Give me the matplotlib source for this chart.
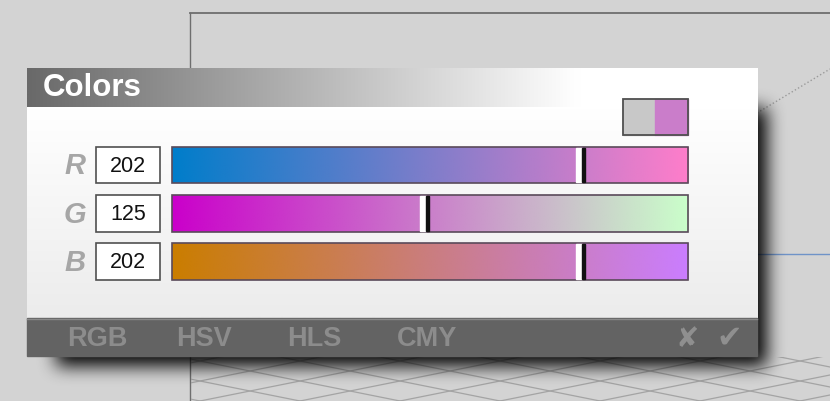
import numpy as np
import matplotlib
matplotlib.use("Agg")
import matplotlib.pyplot as plt
from matplotlib.patches import Rectangle

# current colour of the picker and the one it replaces
channels = ["R", "G", "B"]
values = [202, 125, 202]
previous = [200, 200, 200]
modes = ["RGB", "HSV", "HLS", "CMY"]
title = "Colors"

W, H = 830, 402
FONT = "Liberation Sans"


def blur(a, r, passes=3):
    k = np.ones(2 * r + 1) / (2 * r + 1)
    for _ in range(passes):
        a = np.apply_along_axis(lambda m: np.convolve(m, k, mode="same"), 0, a)
        a = np.apply_along_axis(lambda m: np.convolve(m, k, mode="same"), 1, a)
    return a


def shadow(ax, rects, dx, dy, r, alpha):
    mask = np.zeros((H, W))
    for x0, y0, x1, y1 in rects:
        mask[int(y0 + dy):int(y1 + dy), int(x0 + dx):int(x1 + dx)] = 1.0
    mask = blur(mask, r)
    img = np.zeros((H, W, 4))
    img[..., 3] = np.clip(mask * alpha, 0, 1)
    ax.imshow(img, extent=[0, W, H, 0], interpolation="bilinear", zorder=2)


def hgrad(ax, x0, y0, x1, y1, cols, z=3):
    arr = np.array(cols, dtype=float)[None, :, :] / 255
    ax.imshow(arr, extent=[x0, x1, y1, y0], aspect="auto",
              interpolation="bilinear", zorder=z)


fig = plt.figure(figsize=(W / 100, H / 100), dpi=100)
ax = fig.add_axes([0, 0, 1, 1])
ax.set_xlim(0, W)
ax.set_ylim(H, 0)
ax.axis("off")

# background scene
ax.add_patch(Rectangle((0, 0), W, H, color="#d3d3d3", zorder=0))
ax.plot([190, W], [14, 14], color="#6e6e6e", lw=1.3, zorder=1)
ax.plot([190, 190], [14, H], color="#6e6e6e", lw=1.0, zorder=1)
ax.plot([757, W], [114, 70], color="#9a9a9a", lw=1.0, ls=":", zorder=1)
ax.plot([757, W], [255, 255], color="#6f93c8", lw=1.0, zorder=1)
for x in np.arange(100, 1100, 100):
    for s in (1, -1):
        xs = np.array([x - 400, x + 400])
        ys = 382 + s * 0.2 * (xs - x)
        ln, = ax.plot(xs, ys, color="#a4a4a4", lw=0.9, zorder=1)
        ln.set_clip_path(Rectangle((191, 358), W, 60, transform=ax.transData))

# panel geometry
px0, px1 = 27, 757
ty0, ty1 = 69, 108
fy0, fy1 = 319, 357

shadow(ax, [(px0 + 20, ty0 + 30, px1, fy1)], 9, 10, 8, 1.0)

# body and title bar
body = np.linspace(255, 236, 50)
ax.imshow(np.repeat(body[:, None], 3, axis=1)[:, None, :] / 255,
          extent=[px0, px1, fy0, ty1], aspect="auto", interpolation="bilinear", zorder=3)
tx = np.linspace(px0, px1, 200)
tv = np.clip(105 + 150 * (tx - px0) / (578 - px0), 0, 255)
hgrad(ax, px0, ty0, px1, ty1, np.stack([tv, tv, tv], axis=1))
ax.text(43, 88.5, title, color="white", fontsize=22.5, fontweight="bold",
        family=FONT, va="center", ha="left", zorder=6)

# footer
ax.add_patch(Rectangle((px0, fy0), px1 - px0, fy1 - fy0, color="#636363", zorder=3))
ax.plot([px0, px1], [fy0 + 0.5, fy0 + 0.5], color="#8a8a8a", lw=1, zorder=4)
for cx, m in zip([97, 204, 314, 427], modes):
    ax.text(cx, 339, m, color="#8c8c8c", fontsize=19.5, fontweight="bold",
            family=FONT, ha="center", va="center", zorder=6)
ax.text(687, 339, "\u2718", color="#8f8f8f", fontsize=20, family="DejaVu Sans",
        ha="center", va="center", zorder=6)
ax.text(729, 338, "\u2714", color="#8f8f8f", fontsize=22, family="DejaVu Sans",
        ha="center", va="center", zorder=6)

# sliders
bx0, bx1 = 172, 688
rows = [(148, 184), (196, 233), (244, 281)]
small = [(623, 100, 688, 136)]
for y0, y1 in rows:
    small.append((bx0, y0, bx1, y1))
    small.append((96, y0, 160, y1))
shadow(ax, small, 2, 4, 2, 0.55)

steps = np.arange(256)
for i, (ch, (y0, y1)) in enumerate(zip(channels, rows)):
    cols = np.tile(np.array(values, dtype=float), (256, 1))
    cols[:, i] = steps
    hgrad(ax, bx0, y0, bx1, y1, cols, z=4)
    ax.add_patch(Rectangle((bx0, y0), bx1 - bx0, y1 - y0, fill=False,
                           ec="#5a4a5a", lw=1.2, zorder=5))
    mx = bx0 + values[i] / 255 * (bx1 - bx0)
    ax.add_patch(Rectangle((mx - 4.5, y0 + 1), 6, y1 - y0 - 2, color="white", zorder=6))
    ax.add_patch(Rectangle((mx + 1.5, y0 + 1), 3, y1 - y0 - 2, color="#111111", zorder=6))

    ax.add_patch(Rectangle((96, y0), 64, y1 - y0, fc="white", ec="#505050",
                           lw=1.2, zorder=5))
    ax.text(128, (y0 + y1) / 2 + 0.5, str(values[i]), fontsize=15.5, family=FONT,
            ha="center", va="center", color="#111111", zorder=6)
    ax.text(75, (y0 + y1) / 2 + 0.5, ch, fontsize=21, fontweight="bold",
            style="italic", family=FONT, color="#a6a6a6",
            ha="center", va="center", zorder=6)

# swatch: old colour | new colour
ax.add_patch(Rectangle((623, 100), 32, 36, color=np.array(previous) / 255, zorder=4))
ax.add_patch(Rectangle((655, 100), 33, 36, color=np.array(values) / 255, zorder=4))
ax.add_patch(Rectangle((623, 100), 65, 36, fill=False, ec="#505050", lw=1.3, zorder=5))

fig.savefig("out.png", dpi=100)
